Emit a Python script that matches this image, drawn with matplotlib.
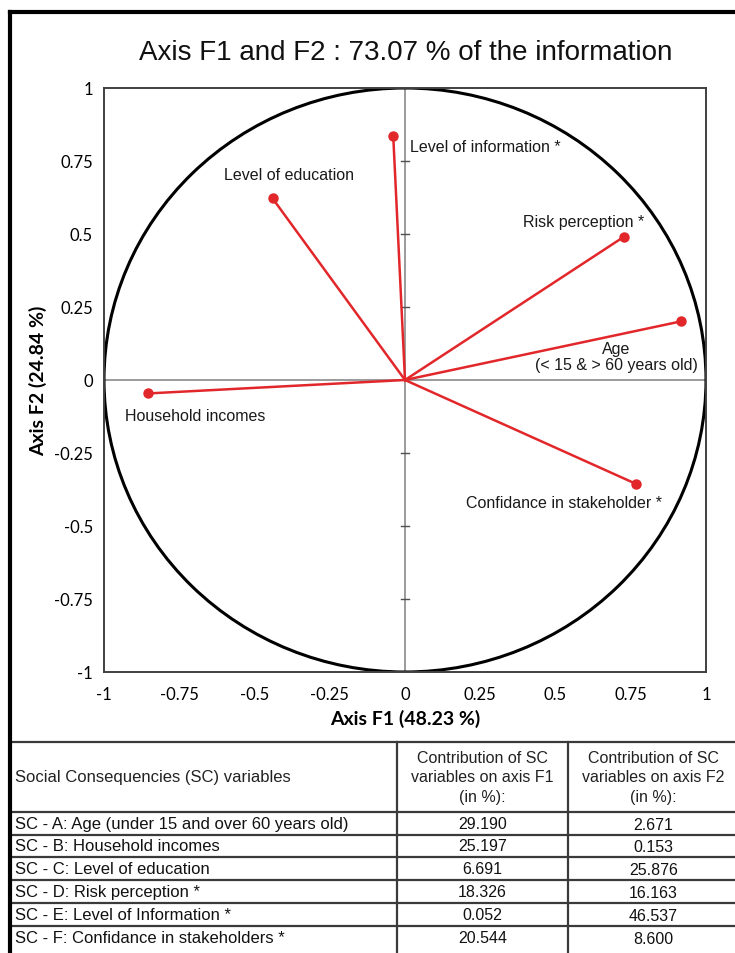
import matplotlib
matplotlib.use("Agg")
import matplotlib.pyplot as plt
from matplotlib.patches import Circle
from matplotlib.lines import Line2D

# ---- data ----
variables = ["Level of information *", "Level of education", "Risk perception *",
             "Age\n(< 15 & > 60 years old)", "Household incomes", "Confidance in stakeholder *"]
f1 = [-0.039, -0.440, 0.728, 0.918, -0.853, 0.768]
f2 = [0.834, 0.622, 0.491, 0.201, -0.046, -0.356]

title = "Axis F1 and F2 : 73.07 % of the information"
xlabel = "Axis F1 (48.23 %)"
ylabel = "Axis F2 (24.84 %)"
ticks = [-1, -0.75, -0.5, -0.25, 0, 0.25, 0.5, 0.75, 1]
tick_labels = ["-1", "-0.75", "-0.5", "-0.25", "0", "0.25", "0.5", "0.75", "1"]

table_header = ["Social Consequencies (SC) variables",
                "Contribution of SC\nvariables on axis F1\n(in %):",
                "Contribution of SC\nvariables on axis F2\n(in %):"]
table_vars = ["SC - A: Age (under 15 and over 60 years old)",
              "SC - B: Household incomes",
              "SC - C: Level of education",
              "SC - D: Risk perception *",
              "SC - E: Level of Information *",
              "SC - F: Confidance in stakeholders *"]
contrib_f1 = ["29.190", "25.197", "6.691", "18.326", "0.052", "20.544"]
contrib_f2 = ["2.671", "0.153", "25.876", "16.163", "46.537", "8.600"]

W, H = 735, 954
fig = plt.figure(figsize=(W / 100, H / 100), dpi=100)

def fx(px):
    return px / W

def fy(py):
    return 1 - py / H

ARIAL = "Liberation Sans"
TICKF = "Lato"
red = "#E2272B"

# ---- main axes ----
left, right, top, bottom = 104, 706, 89, 673
ax = fig.add_axes([fx(left), fy(bottom), fx(right - left), (bottom - top) / H])
ax.set_xlim(-1, 1)
ax.set_ylim(-1, 1)
for s in ax.spines.values():
    s.set_color("#404040")
    s.set_linewidth(1.4)
ax.set_xticks(ticks)
ax.set_xticklabels(tick_labels, fontfamily=TICKF, fontsize=12)
ax.set_yticks(ticks)
ax.set_yticklabels(tick_labels, fontfamily=TICKF, fontsize=12)
ax.tick_params(axis="both", length=0)
ax.tick_params(axis="x", pad=10)
ax.tick_params(axis="y", pad=8)

ax.axhline(0, color="#808080", lw=1.1, zorder=1)
ax.axvline(0, color="#808080", lw=1.1, zorder=1)
for t in ticks:
    if t not in (-1, 0, 1):
        ax.plot([-0.012, 0.012], [t, t], color="#505050", lw=1.0, zorder=1)

ax.add_patch(Circle((0, 0), 1, fill=False, ec="black", lw=2.2, zorder=2))

for x, y in zip(f1, f2):
    ax.plot([0, x], [0, y], color=red, lw=1.8, zorder=3)
    ax.plot(x, y, "o", color=red, ms=6.5, mec=red, zorder=4)

# label offsets in points relative to each point
label_offsets = [(12, -7.5, "left"), (11.5, 17.5, "center"), (-29.5, 11, "center"),
                 (-47, -25.5, "center"), (-16.5, -16, "left"), (-52, -13.7, "center")]
for name, x, y, (dx, dy, ha) in zip(variables, f1, f2, label_offsets):
    ax.annotate(name, (x, y), xytext=(dx, dy), textcoords="offset points",
                ha=ha, va="center", fontsize=11.5, fontfamily=ARIAL,
                color="#1a1a1a", linespacing=1.05, zorder=5)

ax.set_xlabel(xlabel, fontfamily=TICKF, fontweight="bold", fontsize=14, labelpad=5)
ax.set_ylabel(ylabel, fontfamily=TICKF, fontweight="bold", fontsize=14, labelpad=5)

fig.text(fx(406), fy(53), title, ha="center", va="center",
         fontsize=20, fontfamily=ARIAL, color="#111111")

# ---- table ----
ov = fig.add_axes([0, 0, 1, 1], zorder=-1)
ov.set_xlim(0, W)
ov.set_ylim(H, 0)
ov.axis("off")

row_lines = [743, 813, 836, 858, 881, 904, 927]
col_x = [397, 568]
gcol = "#3a3a3a"
for yy in row_lines:
    ov.add_line(Line2D([11, W], [yy, yy], color=gcol, lw=1.6))
for xx in col_x:
    ov.add_line(Line2D([xx, xx], [743, H], color=gcol, lw=1.6))

# outer border
ov.add_line(Line2D([10, 10], [13, H + 5], color="black", lw=3))
ov.add_line(Line2D([10, W + 5], [13, 13], color="black", lw=3))

tfs = 12
hfs = 11.5
nfs = 11.5
ov.text(15, 778, table_header[0], ha="left", va="center", fontsize=tfs, fontfamily=ARIAL, color="#222222")
ov.text((397 + 568) / 2, 778, table_header[1], ha="center", va="center", fontsize=hfs,
        fontfamily=ARIAL, color="#222222", linespacing=1.38)
ov.text((568 + 735) / 2 + 2, 778, table_header[2], ha="center", va="center", fontsize=hfs,
        fontfamily=ARIAL, color="#222222", linespacing=1.38)

row_centers = [825, 847, 870, 893, 916, 939]
for yc, name, c1, c2 in zip(row_centers, table_vars, contrib_f1, contrib_f2):
    ov.text(15, yc, name, ha="left", va="center", fontsize=tfs, fontfamily=ARIAL, color="#111111")
    ov.text((397 + 568) / 2, yc, c1, ha="center", va="center", fontsize=nfs, fontfamily=ARIAL, color="#111111")
    ov.text((568 + 735) / 2 + 2, yc + 1, c2, ha="center", va="center", fontsize=nfs, fontfamily=ARIAL, color="#111111")

fig.savefig("out.png", dpi=100)
